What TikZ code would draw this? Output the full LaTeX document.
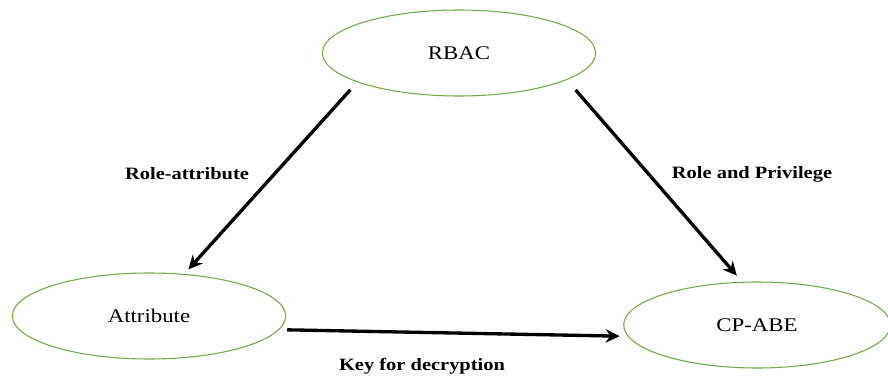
\documentclass[tikz,border=0pt]{standalone}
\usepackage{fontspec}
\setmainfont{Liberation Serif}[FakeStretch=1.18]
\usepackage{xcolor}
\usepackage{tikz}
\usetikzlibrary{arrows.meta,shapes.geometric}
\definecolor{ovalgreen}{RGB}{112,173,71}
\tikzset{
  oval/.style={ellipse, draw=ovalgreen, line width=0.8pt, minimum width=205pt, minimum height=64.5pt, inner sep=0pt, font=\fontsize{14.5}{16}\selectfont},
  lbl/.style={font=\fontsize{13}{15}\selectfont\bfseries},
  arr/.style={-{Stealth[length=10.5pt,width=10pt]}, line width=2.5pt, draw=black},
}
\begin{document}
\begin{tikzpicture}[x=0.75pt,y=-0.75pt]
    \useasboundingbox (0,0) rectangle (888,378);
    \node[oval] (rbac) at (459,53) {RBAC};
    \node[oval] (attr) at (149,316) {Attribute};
    \node[oval, minimum width=200pt] (cpabe) at (757,325) {CP-ABE};
    \node[lbl] (lrole) at (187,174) {Role-attribute};
    \node[lbl] (lpriv) at (752,174) {Role and Privilege};
    \node[lbl] (lkey) at (422,366) {Key for decryption};
    \draw[arr, shorten <=7.7pt, shorten >=4.6pt] (rbac.196) -- (attr.50);
    \draw[arr, shorten <=10pt, shorten >=6pt] (rbac.-14) -- (cpabe.109);
    \draw[arr, shorten <=6pt, shorten >=6pt] (attr.-6) -- (cpabe.185);
  \end{tikzpicture}
\end{document}
